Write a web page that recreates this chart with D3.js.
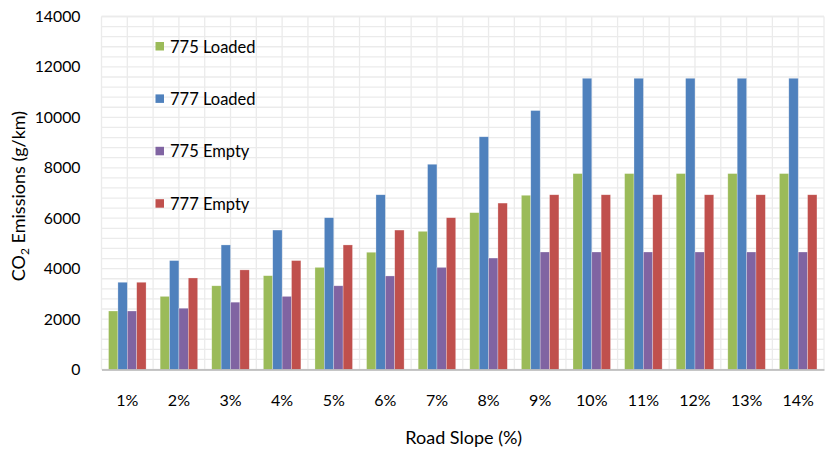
<!DOCTYPE html>
<html>
<head>
<meta charset="utf-8">
<script src="https://cdn.jsdelivr.net/npm/d3@7"></script>
<style>
  html, body { margin: 0; padding: 0; background: #fff; }
  svg text { font-family: Lato, "Open Sans", sans-serif; fill: #000; }
</style>
</head>
<body>
<svg id="chart" width="832" height="451"></svg>
<script>
// Road slope categories
const slopes = ["1%", "2%", "3%", "4%", "5%", "6%", "7%", "8%", "9%", "10%", "11%", "12%", "13%", "14%"];

// CO2 emissions (g/km) per truck / load state
const loaded775 = [2320, 2900, 3320, 3720, 4050, 4650, 5480, 6220, 6910, 7770, 7770, 7770, 7770, 7770];
const loaded777 = [3460, 4320, 4940, 5530, 6020, 6930, 8140, 9230, 10270, 11550, 11550, 11550, 11550, 11550];
const empty775  = [2320, 2430, 2670, 2900, 3320, 3710, 4050, 4420, 4660, 4660, 4660, 4660, 4660, 4660];
const empty777  = [3460, 3630, 3950, 4320, 4940, 5530, 6020, 6600, 6930, 6930, 6930, 6930, 6930, 6930];

const seriesNames = ["775 Loaded", "777 Loaded", "775 Empty", "777 Empty"];
const seriesColors = ["#9BBB59", "#4F81BD", "#8064A2", "#C0504D"];
const yTicks = [0, 2000, 4000, 6000, 8000, 10000, 12000, 14000];

const series = [loaded775, loaded777, empty775, empty777].map((values, i) => ({
  name: seriesNames[i], color: seriesColors[i], values
}));

const svg = d3.select("#chart");
const margin = { left: 101.5, right: 8, top: 16.5, bottom: 81.5 };
const W = 832, H = 451;
const x0 = margin.left, x1 = W - margin.right;
const yBottom = H - margin.bottom, yTop = margin.top;

const x = d3.scaleBand().domain(slopes).range([x0, x1]).paddingInner(0).paddingOuter(0);
// Gap width of 150%: four bars fill 4/5.5 of each category, centred
const xSub = d3.scaleBand().domain(seriesNames)
  .range([0, x.bandwidth()]).paddingInner(0).paddingOuter(0.75);

const y = d3.scaleLinear().domain([0, 14000]).range([yBottom, yTop]);

// Minor horizontal gridlines every 400
const gridG = svg.append("g").attr("class", "grid");
d3.range(0, 14001, 400).concat([14000]).forEach(v => {
  gridG.append("line")
    .attr("x1", x0).attr("x2", x1)
    .attr("y1", y(v)).attr("y2", y(v))
    .attr("stroke", "#ebebeb").attr("stroke-width", 1.3);
});
// Vertical gridlines at every half category
const vLines = [];
slopes.forEach(s => { vLines.push(x(s)); vLines.push(x(s) + x.bandwidth() / 2); });
vLines.push(x1);
vLines.forEach(px => {
  gridG.append("line")
    .attr("x1", px).attr("x2", px)
    .attr("y1", yTop).attr("y2", yBottom)
    .attr("stroke", "#ebebeb").attr("stroke-width", 1.3);
});

// Bars
series.forEach(s => {
  svg.append("g").selectAll("rect")
    .data(s.values)
    .join("rect")
    .attr("x", (d, i) => x(slopes[i]) + xSub(s.name))
    .attr("width", xSub.bandwidth())
    .attr("y", d => y(d))
    .attr("height", d => y(0) - y(d))
    .attr("fill", s.color)
    .attr("stroke", "#ffffff")
    .attr("stroke-opacity", 0.45)
    .attr("stroke-width", 0.6);
});

// Category axis
const xAxis = d3.axisBottom(x).tickSize(0).tickPadding(25);
const xg = svg.append("g").attr("transform", `translate(0,${yBottom})`).call(xAxis);
xg.select(".domain").attr("stroke", "#b4b4b4").attr("stroke-width", 1.6);
xg.selectAll("text").style("font-size", "16px").style("font-family", "Lato, sans-serif").attr("fill", "#000");

// Value axis
const yAxis = d3.axisLeft(y).tickValues(yTicks).tickSize(0).tickPadding(21).tickFormat(d3.format("d"));
const yg = svg.append("g").attr("transform", `translate(${x0},0)`).call(yAxis);
yg.select(".domain").remove();
yg.selectAll("text").style("font-size", "15.8px").style("font-family", "Lato, sans-serif").attr("fill", "#000");

// Axis titles
svg.append("text")
  .attr("x", (x0 + x1) / 2 + 1).attr("y", 444)
  .attr("text-anchor", "middle")
  .style("font-size", "18px")
  .text("Road Slope (%)");

const yt = svg.append("text")
  .attr("transform", `translate(25,${196}) rotate(-90)`)
  .attr("text-anchor", "middle")
  .style("font-size", "18px");
yt.append("tspan").text("CO");
yt.append("tspan").attr("dy", 4).style("font-size", "12px").text("2");
yt.append("tspan").attr("dy", -4).text(" Emissions (g/km)");

// Legend inside the plot area
const legend = svg.append("g").attr("class", "legend");
series.forEach((s, i) => {
  const cy = 46.5 + i * 52.4;
  legend.append("rect")
    .attr("x", 155.5).attr("y", cy - 4.5)
    .attr("width", 8.5).attr("height", 8.5)
    .attr("fill", s.color);
  legend.append("text")
    .attr("x", 170).attr("y", cy)
    .attr("dominant-baseline", "central")
    .style("font-size", "16.5px")
    .text(s.name);
});
</script>
</body>
</html>
